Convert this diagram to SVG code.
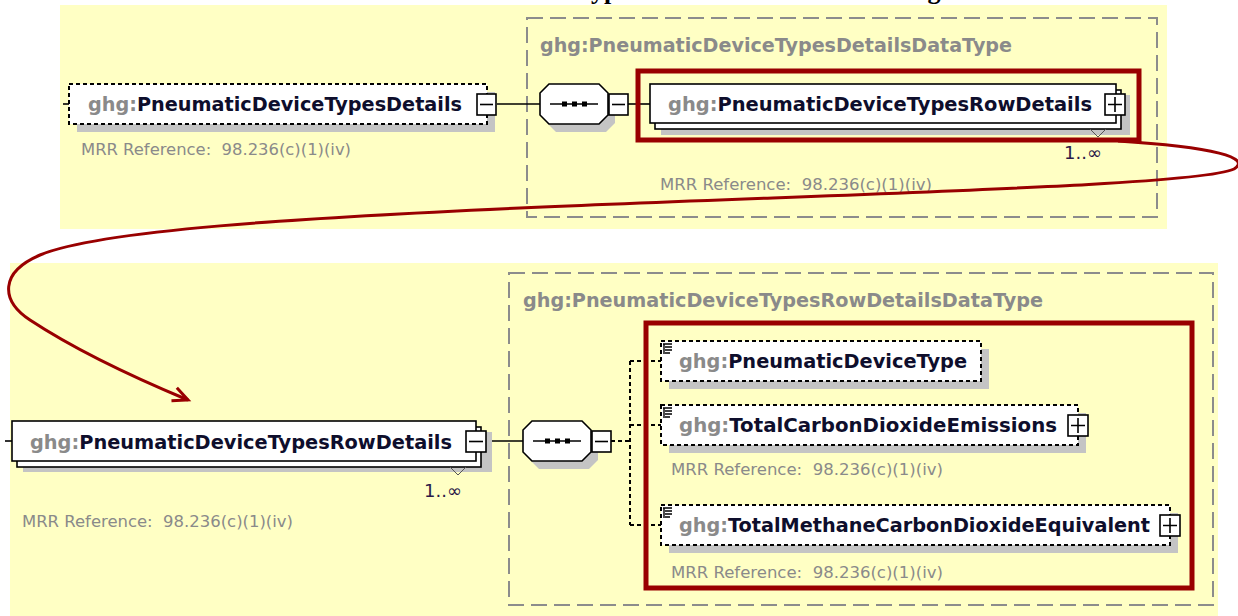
<svg xmlns="http://www.w3.org/2000/svg" width="1238" height="616" viewBox="0 0 1238 616">
  <style>
    .panel{fill:#FFFFC4}
    .typebox{fill:none;stroke:#8C8C8C;stroke-width:2;stroke-dasharray:16 7}
    .shadow{fill:#C4C4C4}
    .opt{fill:#fff;stroke:#000;stroke-width:2;stroke-dasharray:4 3}
    .req{fill:#fff;stroke:#000;stroke-width:1.6}
    .btn{fill:#fff;stroke:#000;stroke-width:1.6}
    .glyph{stroke:#000;stroke-width:1.6;fill:none}
    .wire{stroke:#000;stroke-width:1.6;fill:none}
    .wire-opt{stroke:#000;stroke-width:2;stroke-dasharray:4 3;fill:none}
    .hl{fill:none;stroke:#990000;stroke-width:5}
    .link{fill:none;stroke:#990000;stroke-width:3}
    .name{font-family:"DejaVu Sans",Verdana,sans-serif;font-weight:bold;font-size:19px;fill:#0E0E2C}
    .ns{fill:#8A8A8A}
    .typename{font-family:"DejaVu Sans",Verdana,sans-serif;font-weight:bold;font-size:19px;fill:#8A8A8A}
    .note{font-family:"DejaVu Sans",Verdana,sans-serif;font-size:16px;fill:#8A8A8A;white-space:pre}
    .card{font-family:"DejaVu Sans",Verdana,sans-serif;font-size:18px;fill:#2A1848}
    .title{font-family:"Liberation Serif","Times New Roman",serif;font-weight:bold;font-size:26px;fill:#000}
    .rep{fill:none;stroke:#555;stroke-width:1}
  </style>
  <defs>
    <marker id="openHead" markerUnits="userSpaceOnUse" markerWidth="20" markerHeight="20" refX="0" refY="0" viewBox="-16 -10 20 20" orient="auto">
      <path d="M-15,-7 L0,0 L-15,7" fill="none" stroke="#990000" stroke-width="3"/>
    </marker>
    <g id="docIcon">
      <path d="M0,0 h9 M2,3 h7 M2,6 h7 M2,9 h5 M1,0 v10" stroke="#000" stroke-width="1.4" fill="none"/>
    </g>
  </defs>

  <rect width="1238" height="616" fill="#fff"/>
  <text class="title" x="371" y="-1">Pneumatic Device Types Details Data Element Diagram</text>

  <!-- panels -->
  <rect class="panel" x="60" y="5" width="1107" height="224"/>
  <rect class="panel" x="10" y="263" width="1208" height="353"/>

  <!-- complex type frames -->
  <g id="type-details">
    <rect class="typebox" x="527" y="18" width="630" height="199"/>
    <text class="typename" x="540" y="52" textLength="472" lengthAdjust="spacingAndGlyphs">ghg:PneumaticDeviceTypesDetailsDataType</text>
    <text class="note" x="660" y="190" textLength="272" lengthAdjust="spacingAndGlyphs">MRR Reference:  98.236(c)(1)(iv)</text>
  </g>
  <g id="type-rowdetails">
    <rect class="typebox" x="509" y="273" width="704" height="332"/>
    <text class="typename" x="523" y="307" textLength="520" lengthAdjust="spacingAndGlyphs">ghg:PneumaticDeviceTypesRowDetailsDataType</text>
  </g>

  <!-- connectors -->
  <g id="connectors">
    <line class="wire" x1="63" y1="104" x2="69" y2="104"/>
    <line class="wire" x1="497" y1="104" x2="540" y2="104"/>
    <line class="wire" x1="628" y1="104" x2="650" y2="104"/>
    <line class="wire" x1="5" y1="441" x2="12" y2="441"/>
    <line class="wire" x1="486" y1="441" x2="523" y2="441"/>
    <path class="wire-opt" d="M611,441 H630 M630,361 V525 M630,361 H661 M630,425 H661 M630,525 H661"/>
  </g>

  <!-- top: PneumaticDeviceTypesDetails -->
  <g id="node-details">
    <rect class="shadow" x="77" y="92" width="418" height="40"/>
    <rect class="opt" x="69" y="84" width="418" height="40"/>
    <text class="name" x="88" y="111" textLength="374" lengthAdjust="spacingAndGlyphs"><tspan class="ns">ghg:</tspan>PneumaticDeviceTypesDetails</text>
    <rect class="btn" x="477" y="94" width="19" height="21"/>
    <line class="glyph" x1="480" y1="104.5" x2="493" y2="104.5"/>
    <text class="note" x="81" y="155" textLength="270" lengthAdjust="spacingAndGlyphs">MRR Reference:  98.236(c)(1)(iv)</text>
  </g>

  <!-- top: sequence -->
  <g id="seq-details">
    <polygon class="shadow" points="556,92 606,92 615,101 615,123 606,132 556,132 547,123 547,101"/>
    <polygon class="req" points="549,84 599,84 608,93 608,115 599,124 549,124 540,115 540,93"/>
    <line class="glyph" x1="550" y1="104" x2="598" y2="104"/>
    <rect x="562" y="101.5" width="5" height="5" fill="#000"/>
    <rect x="572" y="101.5" width="5" height="5" fill="#000"/>
    <rect x="582" y="101.5" width="5" height="5" fill="#000"/>
    <rect class="btn" x="609" y="94" width="19" height="21"/>
    <line class="glyph" x1="612" y1="104.5" x2="625" y2="104.5"/>
  </g>

  <!-- top: PneumaticDeviceTypesRowDetails (repeating) -->
  <g id="node-rowdetails-ref">
    <rect class="shadow" x="661" y="95" width="469" height="40"/>
    <rect class="req" x="655" y="90" width="466" height="39"/>
    <rect class="req" x="650" y="84" width="466" height="39"/>
    <text class="name" x="668" y="111" textLength="424" lengthAdjust="spacingAndGlyphs"><tspan class="ns">ghg:</tspan>PneumaticDeviceTypesRowDetails</text>
    <rect class="btn" x="1105" y="94" width="20" height="21"/>
    <path class="glyph" d="M1108,104.5 H1122 M1115,97 V112"/>
    <path class="rep" d="M1090,129 L1098,137 L1106,129"/>
    <text class="card" x="1064" y="159">1..∞</text>
  </g>

  <!-- bottom: PneumaticDeviceTypesRowDetails (repeating) -->
  <g id="node-rowdetails">
    <rect class="shadow" x="23" y="432" width="469" height="40"/>
    <rect class="req" x="17" y="427" width="464" height="40"/>
    <rect class="req" x="12" y="421" width="464" height="40"/>
    <text class="name" x="30" y="449" textLength="422" lengthAdjust="spacingAndGlyphs"><tspan class="ns">ghg:</tspan>PneumaticDeviceTypesRowDetails</text>
    <rect class="btn" x="466" y="431" width="20" height="21"/>
    <line class="glyph" x1="469" y1="441.5" x2="483" y2="441.5"/>
    <path class="rep" d="M450,467 L458,475 L466,467"/>
    <text class="card" x="424" y="497">1..∞</text>
    <text class="note" x="22" y="527" textLength="271" lengthAdjust="spacingAndGlyphs">MRR Reference:  98.236(c)(1)(iv)</text>
  </g>

  <!-- bottom: sequence -->
  <g id="seq-rowdetails">
    <polygon class="shadow" points="539,429 589,429 598,438 598,460 589,469 539,469 530,460 530,438"/>
    <polygon class="req" points="532,421 582,421 591,430 591,452 582,461 532,461 523,452 523,430"/>
    <line class="glyph" x1="533" y1="441" x2="581" y2="441"/>
    <rect x="545" y="438.5" width="5" height="5" fill="#000"/>
    <rect x="555" y="438.5" width="5" height="5" fill="#000"/>
    <rect x="565" y="438.5" width="5" height="5" fill="#000"/>
    <rect class="btn" x="592" y="431" width="19" height="21"/>
    <line class="glyph" x1="595" y1="441.5" x2="608" y2="441.5"/>
  </g>

  <!-- bottom: child elements -->
  <g id="node-devicetype">
    <rect class="shadow" x="669" y="349" width="320" height="40"/>
    <rect class="opt" x="661" y="341" width="320" height="40"/>
    <use href="#docIcon" x="663" y="344"/>
    <text class="name" x="679" y="368" textLength="288" lengthAdjust="spacingAndGlyphs"><tspan class="ns">ghg:</tspan>PneumaticDeviceType</text>
  </g>
  <g id="node-co2">
    <rect class="shadow" x="669" y="413" width="417" height="40"/>
    <rect class="opt" x="661" y="405" width="417" height="40"/>
    <use href="#docIcon" x="663" y="408"/>
    <text class="name" x="679" y="432" textLength="378" lengthAdjust="spacingAndGlyphs"><tspan class="ns">ghg:</tspan>TotalCarbonDioxideEmissions</text>
    <rect class="btn" x="1068" y="415" width="20" height="21"/>
    <path class="glyph" d="M1071,425.5 H1085 M1078,418 V433"/>
    <text class="note" x="671" y="475" textLength="272" lengthAdjust="spacingAndGlyphs">MRR Reference:  98.236(c)(1)(iv)</text>
  </g>
  <g id="node-ch4co2e">
    <rect class="shadow" x="669" y="513" width="509" height="40"/>
    <rect class="opt" x="661" y="505" width="509" height="40"/>
    <use href="#docIcon" x="663" y="508"/>
    <text class="name" x="679" y="532" textLength="471" lengthAdjust="spacingAndGlyphs"><tspan class="ns">ghg:</tspan>TotalMethaneCarbonDioxideEquivalent</text>
    <rect class="btn" x="1160" y="515" width="20" height="21"/>
    <path class="glyph" d="M1163,525.5 H1177 M1170,518 V533"/>
    <text class="note" x="671" y="578" textLength="272" lengthAdjust="spacingAndGlyphs">MRR Reference:  98.236(c)(1)(iv)</text>
  </g>

  <!-- highlight frames -->
  <g id="highlights">
    <rect class="hl" x="638" y="71" width="501" height="69"/>
    <rect class="hl" x="646" y="323" width="546" height="265"/>
  </g>

  <!-- expansion link -->
  <g id="expansion-link">
    <path class="link" marker-end="url(#openHead)" d="M1118,141 C1215,147 1252,158 1234,169 C1200,185 900,192 520,208 C300,218 100,230 40,255 C0,272 0,300 30,320 C80,353 140,380 188,400"/>
  </g>
</svg>
